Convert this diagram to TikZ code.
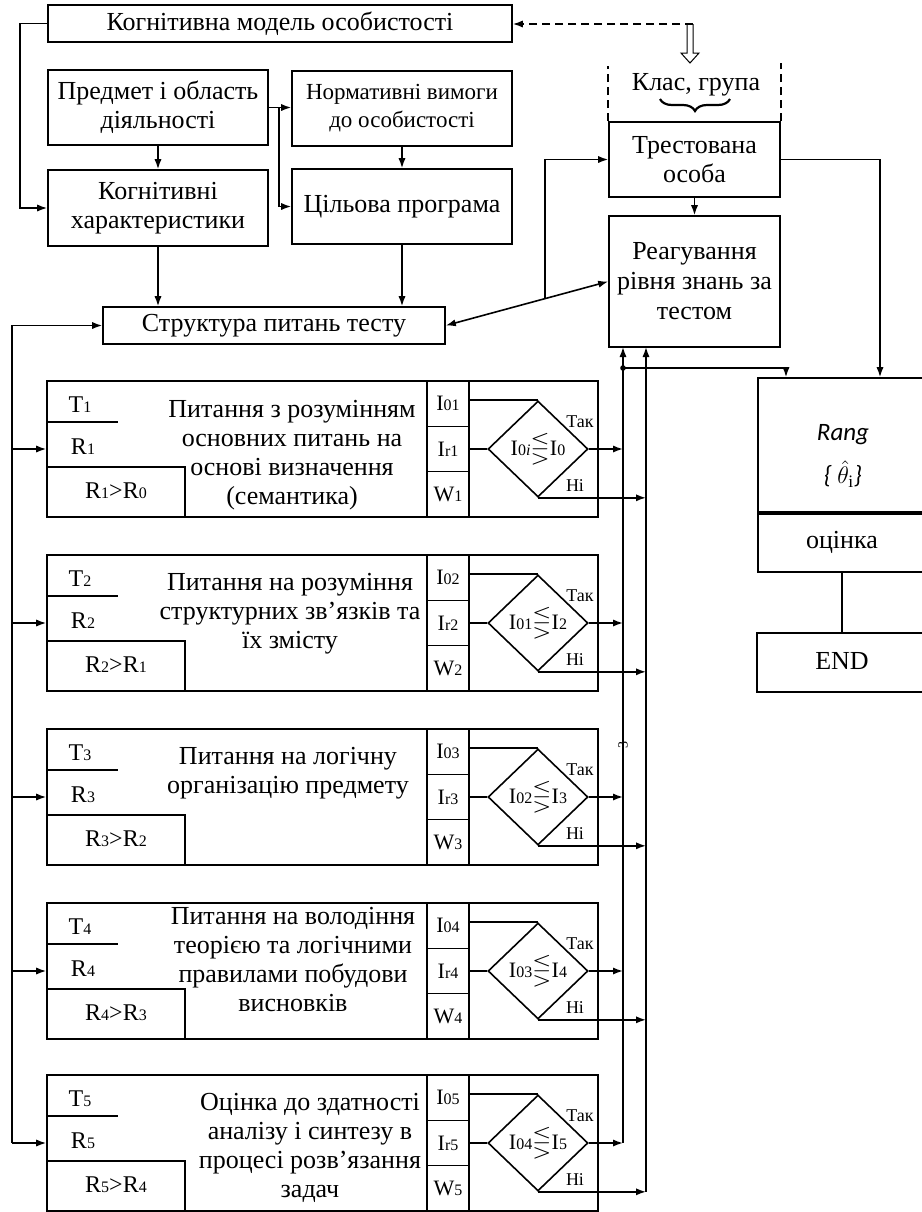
\documentclass[tikz,border=0pt]{standalone}
\usepackage{fontspec}
\setmainfont{Liberation Serif}
\newfontfamily\carlito{Carlito}
\usepackage{amssymb}
\usetikzlibrary{shapes.geometric,arrows.meta,calc,decorations.pathreplacing}
\newcommand{\smidx}[1]{{\fontsize{8}{8}\selectfont #1}}
\newcommand{\cmpsign}{{\fontsize{12.5}{12.5}\selectfont$\lesseqgtr$}}

\begin{document}
\begin{tikzpicture}[x=0.5pt, y=-0.5pt, line width=0.8pt,
    >={Latex[length=5pt,width=3.6pt]},
    box/.style={draw, inner sep=0pt, align=center, font=\fontsize{13}{14.5}\selectfont},
    qbox/.style={draw, minimum width=275.5pt, minimum height=68pt, inner sep=0pt},
    icell/.style={draw, minimum width=21pt, minimum height=22.67pt, inner sep=0pt, font=\fontsize{11}{11}\selectfont},
    cond/.style={diamond, draw, inner sep=0pt, minimum width=50pt, minimum height=48pt, font=\fontsize{11}{11}\selectfont},
    qtext/.style={anchor=north, align=center, inner sep=0pt, font=\fontsize{13}{14.5}\selectfont},
    side/.style={inner sep=0pt, font=\fontsize{12}{12}\selectfont},
    yn/.style={inner sep=0pt, font=\fontsize{9}{9}\selectfont},
    txt/.style={inner sep=0pt, font=\fontsize{13}{14.5}\selectfont}]
        \useasboundingbox (0,0) rectangle (922,1212);
        \clip (0,0) rectangle (922,1212);

        \node[box, minimum width=232pt, minimum height=18.5pt] (model) at (280,23.5) {Когнітивна модель особистості};
        \node[box, minimum width=110pt, minimum height=37.5pt] (subj) at (158,107.5) {Предмет і область\\діяльності};
        \node[box, minimum width=110pt, minimum height=38pt] (cogn) at (158,208) {Когнітивні\\характеристики};
        \node[box, minimum width=110pt, minimum height=37.5pt, font=\fontsize{11.5}{14}\selectfont] (norm) at (402,108.5) {Нормативні вимоги\\до особистості};
        \node[box, minimum width=110pt, minimum height=37.5pt] (goal) at (402,206.5) {Цільова програма};
        \node[box, minimum width=171pt, minimum height=18.5pt] (struct) at (274,325.5) {Структура питань тесту};
        \node[box, minimum width=85.5pt, minimum height=37.5pt] (person) at (694.5,159.5) {Трестована\\особа};
        \node[box, minimum width=85.5pt, minimum height=65.5pt, font=\fontsize{13}{15}\selectfont] (react) at (694.5,281.5) {Реагування\\рівня знань за\\тестом};

        \draw[->] (subj.south) -- (cogn.north);
        \draw[->] (model.west) -- ++(-27,0) |- (cogn.west);
        \draw[->] (subj.east) -- (subj.east -| norm.west);
        \draw[->] ([xshift=5pt]subj.east) |- (goal.west);
        \draw[->] (norm.south) -- (goal.north);
        \draw[->] (cogn.south) -- (cogn.south |- struct.north);
        \draw[->] (goal.south) -- (goal.south |- struct.north);

        \node[txt] (cls) at (696,85) {Клас, група};
        \draw[decorate, decoration={brace, amplitude=6pt}, line width=1.1pt] (730,99) -- (660,99);
        \draw[dashed, dash pattern=on 4pt off 2.5pt] (person.north west) -- ++(0,-55);
        \draw[dashed, dash pattern=on 4pt off 2.5pt] (person.north east) -- ++(0,-58);
        \coordinate (hook) at (693,24);
        \draw[dashed, dash pattern=on 4pt off 2.5pt, ->] (hook) -- (hook -| model.east);
        \draw[line width=0.5pt] (687,24) -- (687,53) -- (681,53) -- (690,63) -- (699,53) -- (693,53) -- (693,24);

        \draw[<->] (struct.east) -- (react.west);
        \coordinate (brk) at ($(struct.east)!0.61!(react.west)$);
        \draw[->] (brk) |- (person.west);
        \draw[->] (person.south) -- (react.north);

        \node[draw, minimum width=91pt, minimum height=97pt, inner sep=0pt] (rang) at (849,475) {};
        \draw[line width=2.2pt] (rang.west |- 0,513) -- (rang.east |- 0,513);
        \node[inner sep=0pt, font=\fontsize{12.5}{12.5}\selectfont] (rangtxt) at (843,435) {\carlito\itshape Rang};
        \node[inner sep=0pt, font=\fontsize{12.5}{12.5}\selectfont] (theta) at (843,474) {{\carlito\itshape\{ }$\hat{\theta}_{\mathrm{i}}${\carlito\itshape\}}};
        \node[txt] (grade) at (842,542) {оцінка};
        \node[draw, minimum width=91.5pt, minimum height=29.5pt, inner sep=0pt] (end) at (848.5,662.5) {};
        \node[txt] (endtxt) at (842,661) {END};
        \draw (grade.south |- rang.south) -- (grade.south |- end.north);
        \draw[->] (person.east) -| ([xshift=15.5pt]rang.north);

        \coordinate (yesTop) at (623,347);
        \coordinate (noTop) at (646,347);
        \coordinate (split) at (623,368);
        \coordinate (bus) at (12,325.5);

        % block 1
        \node[qbox] (q1) at (322.5,449) {};
        \draw (47,422) -- (118,422);
        \node[side] (t1) at (80,405) {T\smidx{1}};
        \node[side] (r1) at (83,447) {R\smidx{1}};
        \draw (47,467) -| (185,517);
        \node[side] (c1) at (116,491) {R\smidx{1}>R\smidx{0}};
        \node[qtext] (x1) at (292,399) {Питання з розумінням\\основних питань на\\основі визначення\\(семантика)};
        \node[icell] (a1) at (448,403.67) {I\smidx{01}};
        \node[icell] (b1) at (448,449) {I\smidx{r1}};
        \node[icell] (w1) at (448,494.33) {W\smidx{1}};
        \node[cond] (d1) at (538,449) {I\smidx{0\textit{i}}\cmpsign I\smidx{0}};
        \draw (d1.north -| a1.east) -- (d1.north);
        \draw (b1.east) -- (d1.west);
        \draw[->] (d1.east) -- (d1.east -| yesTop);
        \draw[->] (d1.south) -- (d1.south -| noTop);
        \node[yn] (y1) at (580,422) {Так};
        \node[yn] (n1) at (575,486) {Ні};

        % block 2
        \node[qbox] (q2) at (322.5,623) {};
        \draw (47,596) -- (118,596);
        \node[side] (t2) at (80,579) {T\smidx{2}};
        \node[side] (r2) at (83,621) {R\smidx{2}};
        \draw (47,641) -| (185,691);
        \node[side] (c2) at (116,665) {R\smidx{2}>R\smidx{1}};
        \node[qtext] (x2) at (290,572) {Питання на розуміння\\структурних зв’язків та\\їх змісту};
        \node[icell] (a2) at (448,577.67) {I\smidx{02}};
        \node[icell] (b2) at (448,623) {I\smidx{r2}};
        \node[icell] (w2) at (448,668.33) {W\smidx{2}};
        \node[cond] (d2) at (538,623) {I\smidx{01}\cmpsign I\smidx{2}};
        \draw (d2.north -| a2.east) -- (d2.north);
        \draw (b2.east) -- (d2.west);
        \draw[->] (d2.east) -- (d2.east -| yesTop);
        \draw[->] (d2.south) -- (d2.south -| noTop);
        \node[yn] (y2) at (580,596) {Так};
        \node[yn] (n2) at (575,660) {Ні};

        % block 3
        \node[qbox] (q3) at (322.5,797) {};
        \draw (47,770) -- (118,770);
        \node[side] (t3) at (80,753) {T\smidx{3}};
        \node[side] (r3) at (83,795) {R\smidx{3}};
        \draw (47,815) -| (185,865);
        \node[side] (c3) at (116,839) {R\smidx{3}>R\smidx{2}};
        \node[qtext] (x3) at (288,746) {Питання на логічну\\організацію предмету};
        \node[icell] (a3) at (448,751.67) {I\smidx{03}};
        \node[icell] (b3) at (448,797) {I\smidx{r3}};
        \node[icell] (w3) at (448,842.33) {W\smidx{3}};
        \node[cond] (d3) at (538,797) {I\smidx{02}\cmpsign I\smidx{3}};
        \draw (d3.north -| a3.east) -- (d3.north);
        \draw (b3.east) -- (d3.west);
        \draw[->] (d3.east) -- (d3.east -| yesTop);
        \draw[->] (d3.south) -- (d3.south -| noTop);
        \node[yn] (y3) at (580,770) {Так};
        \node[yn] (n3) at (575,834) {Ні};

        % block 4
        \node[qbox] (q4) at (322.5,971) {};
        \draw (47,944) -- (118,944);
        \node[side] (t4) at (80,927) {T\smidx{4}};
        \node[side] (r4) at (83,969) {R\smidx{4}};
        \draw (47,989) -| (185,1039);
        \node[side] (c4) at (116,1013) {R\smidx{4}>R\smidx{3}};
        \node[qtext] (x4) at (293,906) {Питання на володіння\\теорією та логічними\\правилами побудови\\висновків};
        \node[icell] (a4) at (448,925.67) {I\smidx{04}};
        \node[icell] (b4) at (448,971) {I\smidx{r4}};
        \node[icell] (w4) at (448,1016.33) {W\smidx{4}};
        \node[cond] (d4) at (538,971) {I\smidx{03}\cmpsign I\smidx{4}};
        \draw (d4.north -| a4.east) -- (d4.north);
        \draw (b4.east) -- (d4.west);
        \draw[->] (d4.east) -- (d4.east -| yesTop);
        \draw[->] (d4.south) -- (d4.south -| noTop);
        \node[yn] (y4) at (580,944) {Так};
        \node[yn] (n4) at (575,1008) {Ні};

        % block 5
        \node[qbox] (q5) at (322.5,1143) {};
        \draw (47,1116) -- (118,1116);
        \node[side] (t5) at (80,1099) {T\smidx{5}};
        \node[side] (r5) at (83,1141) {R\smidx{5}};
        \draw (47,1161) -| (185,1211);
        \node[side] (c5) at (116,1185) {R\smidx{5}>R\smidx{4}};
        \node[qtext] (x5) at (310,1092) {Оцінка до здатності\\аналізу і синтезу в\\процесі розв'язання\\задач};
        \node[icell] (a5) at (448,1097.67) {I\smidx{05}};
        \node[icell] (b5) at (448,1143) {I\smidx{r5}};
        \node[icell] (w5) at (448,1188.33) {W\smidx{5}};
        \node[cond] (d5) at (538,1143) {I\smidx{04}\cmpsign I\smidx{5}};
        \draw (d5.north -| a5.east) -- (d5.north);
        \draw (b5.east) -- (d5.west);
        \draw[->] (d5.east) -- (d5.east -| yesTop);
        \draw[->] (d5.south) -- (d5.south -| noTop);
        \node[yn] (y5) at (580,1116) {Так};
        \node[yn] (n5) at (575,1180) {Ні};

        \draw[->] (bus |- q5.west) |- (struct.west);
        \draw[->] (bus |- q1.west) -- (q1.west);
        \draw[->] (bus |- q2.west) -- (q2.west);
        \draw[->] (bus |- q3.west) -- (q3.west);
        \draw[->] (bus |- q4.west) -- (q4.west);
        \draw[->] (bus |- q5.west) -- (q5.west);

        \draw[->] (yesTop |- d5.east) -- (yesTop);
        \draw[->] (noTop |- d5.south) -- (noTop);
        \fill (split) circle (1.4pt);
        \draw[->] (split) -| ([xshift=-31.5pt]rang.north);
        \node[rotate=90, inner sep=0pt, font=\fontsize{7}{7}\selectfont] (tick) at (623,745) {3};

    \end{tikzpicture}
\end{document}
